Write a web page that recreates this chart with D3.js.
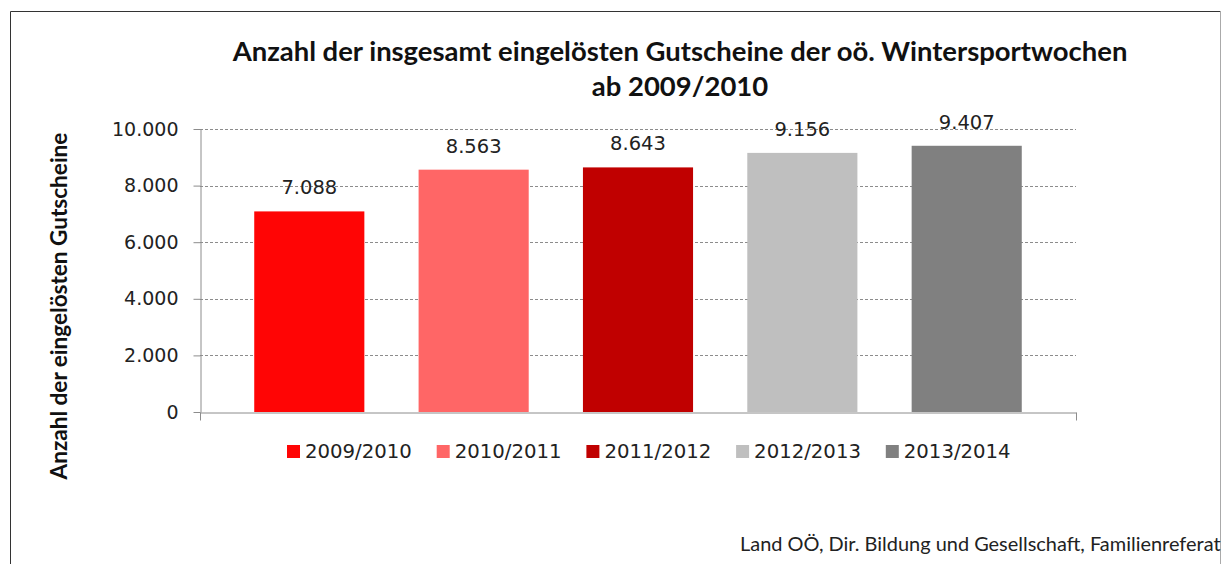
<!DOCTYPE html>
<html>
<head>
<meta charset="utf-8">
<script src="https://cdn.jsdelivr.net/npm/d3@7"></script>
<style>
  body { margin: 0; background: #fff; }
  svg { display: block; }
</style>
</head>
<body>
<div id="vis"></div>
<script>
const width = 1222
const height = 564

// data
const seasons = ["2009/2010", "2010/2011", "2011/2012", "2012/2013", "2013/2014"]
const values = [7088, 8563, 8643, 9156, 9407]
const colours = ["#ff0505", "#ff6666", "#c00000", "#bfbfbf", "#808080"]
const yTicks = [0, 2000, 4000, 6000, 8000, 10000]
const titleLines = ["Anzahl der insgesamt eingelösten Gutscheine der oö. Wintersportwochen", "ab 2009/2010"]
const yTitle = "Anzahl der eingelösten Gutscheine"
const source = "Land OÖ, Dir. Bildung und Gesellschaft, Familienreferat"

const plot = { left: 200, right: 1076, top: 129, bottom: 412 }
const labelFont = "'DejaVu Sans', Verdana, sans-serif"
const calibriLike = "Lato, 'Open Sans', sans-serif"

const svg = d3.select("#vis")
    .append("svg")
    .attr("width", width)
    .attr("height", height)

// scale a text's font size so it spans the wanted width (stand-in for Calibri)
function fitWidth(sel, target) {
    const node = sel.node()
    const size = +sel.attr("font-size")
    const w = node.getComputedTextLength()
    sel.attr("font-size", (size * target / w).toFixed(2))
}

// outer frame
svg.append("path")
    .attr("d", `M10.5,${height} V11.5 H1220.5`)
    .attr("fill", "none")
    .attr("stroke", "#333")
    .attr("stroke-width", 1)
svg.append("line")
    .attr("x1", 1220.5).attr("x2", 1220.5)
    .attr("y1", 11.5).attr("y2", height)
    .attr("stroke", "#aaa")

const fmt = d3.format(",.0f")
const deFmt = v => fmt(v).replace(/,/g, ".")

const xScale = d3.scaleBand(seasons, [plot.left, plot.right])
    .paddingInner(0.33)
    .paddingOuter(0.33)
const yScale = d3.scaleLinear([0, 10000], [plot.bottom, plot.top])
const colourScale = d3.scaleOrdinal(seasons, colours)

// gridlines
svg.append("g")
    .selectAll("line")
    .data(yTicks.filter(d => d > 0))
    .join("line")
        .attr("x1", plot.left)
        .attr("x2", plot.right)
        .attr("y1", d => Math.round(yScale(d)) + 0.5)
        .attr("y2", d => Math.round(yScale(d)) + 0.5)
        .attr("stroke", "#8c8c8c")
        .attr("stroke-dasharray", "3,2")

// y axis
const axisL = d3.axisLeft(yScale)
    .tickValues(yTicks)
    .tickFormat(deFmt)
    .tickSize(7)
    .tickSizeOuter(0)
    .tickPadding(15)
const yAxis = svg.append("g")
    .attr("transform", `translate(${plot.left + 0.5}, 0)`)
    .call(axisL)
yAxis.select(".domain").attr("stroke", "#8c8c8c")
yAxis.selectAll(".tick line").attr("stroke", "#8c8c8c")
yAxis.selectAll(".tick text")
    .attr("font-family", labelFont)
    .attr("font-size", 19)
    .attr("fill", "#222")

// bars
svg.append("g")
    .selectAll("rect")
    .data(values)
    .join("rect")
        .attr("x", (d, i) => xScale(seasons[i]))
        .attr("y", d => yScale(d))
        .attr("width", xScale.bandwidth())
        .attr("height", d => plot.bottom - yScale(d))
        .attr("fill", (d, i) => colourScale(seasons[i]))

// value labels
svg.append("g")
    .selectAll("text")
    .data(values)
    .join("text")
        .attr("x", (d, i) => xScale(seasons[i]) + xScale.bandwidth() / 2)
        .attr("y", d => yScale(d) - 17)
        .attr("text-anchor", "middle")
        .attr("font-family", labelFont)
        .attr("font-size", 19.5)
        .attr("fill", "#222")
        .text(deFmt)

// x axis (single category: line with end ticks)
const xCat = d3.scaleLinear([0, 1], [plot.left, plot.right])
const xAxis = svg.append("g")
    .attr("transform", `translate(0, ${plot.bottom + 0.5})`)
    .call(d3.axisBottom(xCat).tickValues([0, 1]).tickSize(8).tickSizeOuter(0).tickFormat(""))
xAxis.select(".domain").attr("stroke", "#8c8c8c")
xAxis.selectAll(".tick line").attr("stroke", "#8c8c8c")

// title
const t1 = svg.append("text")
    .attr("x", 680)
    .attr("y", 61)
    .attr("text-anchor", "middle")
    .attr("font-family", calibriLike)
    .attr("font-weight", "bold")
    .attr("font-size", 23)
    .attr("fill", "#111")
    .text(titleLines[0])
fitWidth(t1, 895)
svg.append("text")
    .attr("x", 680)
    .attr("y", 96)
    .attr("text-anchor", "middle")
    .attr("font-family", calibriLike)
    .attr("font-weight", "bold")
    .attr("font-size", t1.attr("font-size"))
    .attr("fill", "#111")
    .text(titleLines[1])

// y axis title
const yt = svg.append("text")
    .attr("transform", `translate(67, 306) rotate(-90)`)
    .attr("text-anchor", "middle")
    .attr("font-family", calibriLike)
    .attr("font-weight", "bold")
    .attr("font-size", 18)
    .attr("fill", "#111")
    .text(yTitle)
fitWidth(yt, 347)

// legend
const legendStep = 149.7
const legend = svg.append("g")
    .attr("transform", "translate(287, 451)")
const items = legend.selectAll("g")
    .data(seasons)
    .join("g")
        .attr("transform", (d, i) => `translate(${i * legendStep}, 0)`)
items.append("rect")
    .attr("x", 0)
    .attr("y", -6)
    .attr("width", 13)
    .attr("height", 13)
    .attr("fill", d => colourScale(d))
items.append("text")
    .attr("x", 18)
    .attr("y", 0)
    .attr("dy", "0.35em")
    .attr("font-family", labelFont)
    .attr("font-size", 19.7)
    .attr("fill", "#222")
    .text(d => d)

// source
const src = svg.append("text")
    .attr("x", 740)
    .attr("y", 551)
    .attr("font-family", calibriLike)
    .attr("font-size", 17)
    .attr("fill", "#222")
    .text(source)
fitWidth(src, 481)
</script>
</body>
</html>
